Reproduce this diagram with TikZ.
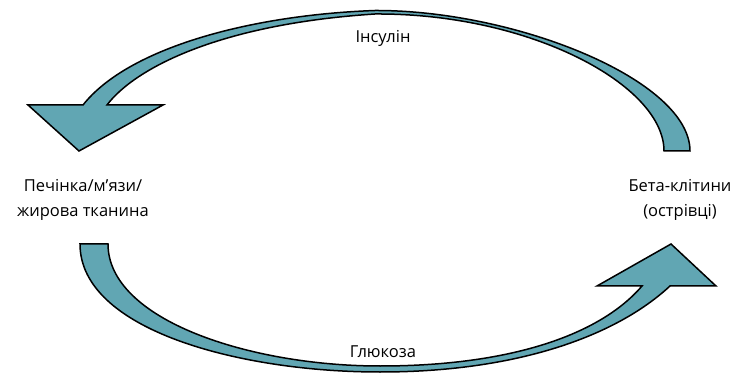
\documentclass[tikz,border=0pt]{standalone}
\usepackage{fontspec}
\setmainfont{Open Sans}
\begin{document}
\begin{tikzpicture}[x=1pt,y=-1pt,
  arrowshape/.style={fill=teal1,draw=black,line width=1.5pt,line join=miter},
  lbl/.style={font=\fontsize{16.5}{25}\selectfont,align=center,inner sep=0pt}]
\definecolor{teal1}{HTML}{61A6B3}
\useasboundingbox (0,0) rectangle (742,374);
% top arrow (insulin), from beta cells to liver
\draw[arrowshape] (690,151) .. controls (690,80) and (515,10) .. (375,10.5)
  .. controls (250,15) and (128,48) .. (83,105)
  -- (28,105) -- (79,151) -- (163,105) -- (107,105)
  .. controls (135,68) and (220,24) .. (375,14)
  .. controls (530,13) and (664,85) .. (664,151) -- cycle;
% bottom arrow (glucose), from liver to beta cells
\draw[arrowshape] (80,244) .. controls (80,330) and (240,372) .. (380,372)
  .. controls (515,372) and (615,337) .. (670,286)
  -- (716,286) -- (671,244) -- (597,286) -- (642,286)
  .. controls (600,335) and (510,366) .. (380,366)
  .. controls (250,366) and (108,320) .. (108,244) -- cycle;
\node[lbl] (liver) at (83,200) {Печінка/м’язи/\\жирова тканина};
\node[lbl] (beta) at (680,200) {Бета-клітини\\(острівці)};
\node[lbl] (ins) at (383,38) {Інсулін};
\node[lbl] (glu) at (383,352) {Глюкоза};
\end{tikzpicture}
\end{document}
